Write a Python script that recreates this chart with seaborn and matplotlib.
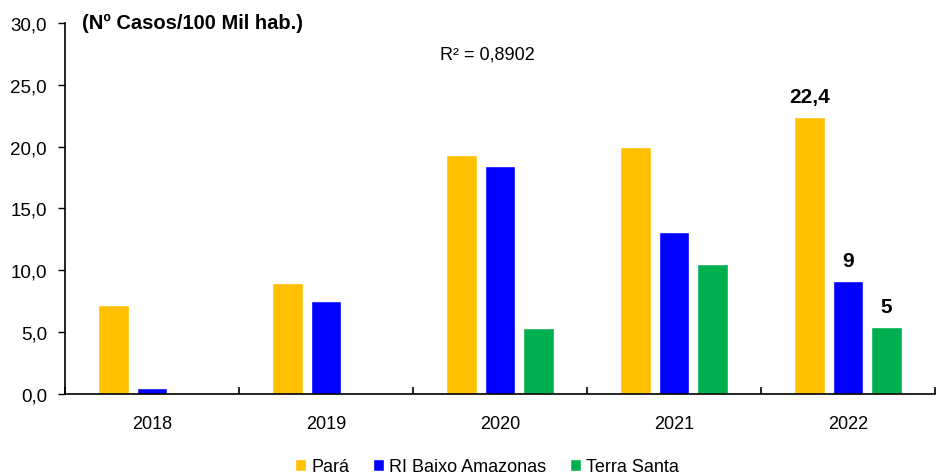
import pandas as pd
import matplotlib.pyplot as plt
import seaborn as sns
from matplotlib.ticker import FixedLocator, FuncFormatter

sns.set_theme(style="white")
plt.rcParams["font.family"] = ["Liberation Sans", "DejaVu Sans"]
plt.rcParams["text.color"] = "black"
plt.rcParams["xtick.color"] = "black"
plt.rcParams["ytick.color"] = "black"

years = ["2018", "2019", "2020", "2021", "2022"]
series = ["Pará", "RI Baixo Amazonas", "Terra Santa"]
para = [7.2, 9.0, 19.3, 20.0, 22.4]
baixo_amazonas = [0.5, 7.5, 18.4, 13.1, 9.1]
terra_santa = [0.0, 0.0, 5.3, 10.5, 5.4]
labels_2022 = ["22,4", "9", "5"]
colors = ["#FFC000", "#0000FF", "#00B050"]

df = pd.DataFrame({
    "ano": years * 3,
    "serie": [s for s in series for _ in years],
    "valor": para + baixo_amazonas + terra_santa,
})

fig, ax = plt.subplots(figsize=(9.36, 4.77), dpi=100)
fig.subplots_adjust(left=0.0695, right=0.999, top=0.95, bottom=0.172)

sns.barplot(data=df, x="ano", y="valor", hue="serie", order=years, hue_order=series,
            palette=colors, width=0.665, gap=0.21, ax=ax, saturation=1, legend=True)

ax.set_ylim(0, 30)
ax.set_xlim(-0.5, 4.5)
ax.set_yticks([0, 5, 10, 15, 20, 25, 30])
ax.yaxis.set_major_formatter(FuncFormatter(lambda v, p: f"{v:.1f}".replace(".", ",")))
ax.tick_params(axis="y", direction="out", length=5, width=1, color="black",
               labelsize=13.5, pad=8, left=True)
ax.tick_params(axis="x", which="major", length=0, labelsize=13, pad=15)
ax.xaxis.set_minor_locator(FixedLocator([-0.5, 0.5, 1.5, 2.5, 3.5, 4.5]))
ax.tick_params(axis="x", which="minor", direction="in", length=5, width=1.2,
               color="black", bottom=True)
ax.set_xlabel("")
ax.set_ylabel("")
for s in ["top", "right"]:
    ax.spines[s].set_visible(False)
for s in ["left", "bottom"]:
    ax.spines[s].set_color("black")
    ax.spines[s].set_linewidth(1.2)

# data labels on the last year only
for cont, lab in zip(ax.containers, labels_2022):
    bar = cont[-1]
    ax.annotate(lab, (bar.get_x() + bar.get_width() / 2, bar.get_height()),
                xytext=(0, 8), textcoords="offset points", ha="center", va="bottom",
                fontsize=15, fontweight="bold")

ax.text(0.019, 1.0, "(Nº Casos/100 Mil hab.)", transform=ax.transAxes,
        fontsize=14.5, fontweight="bold", ha="left", va="center")
ax.text(0.485, 0.915, "R² = 0,8902", transform=ax.transAxes,
        fontsize=13, ha="center", va="center")

leg = ax.legend(loc="upper center", bbox_to_anchor=(0.485, -0.13), ncol=3, frameon=False,
                fontsize=13, handlelength=0.6, handleheight=0.6, handletextpad=0.3,
                columnspacing=1.3)

fig.savefig("out.png", dpi=100)
